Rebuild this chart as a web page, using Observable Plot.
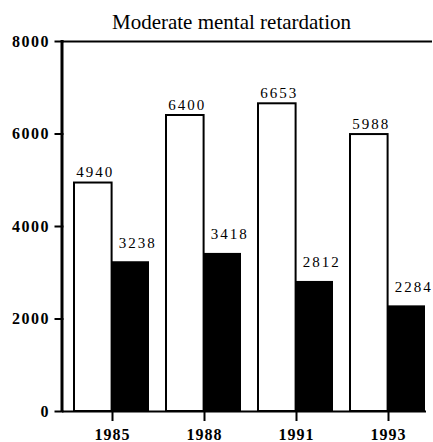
<!DOCTYPE html>
<html><head><meta charset="utf-8">
<script src="https://cdn.jsdelivr.net/npm/d3@7"></script>
<script src="https://cdn.jsdelivr.net/npm/@observablehq/plot@0.6"></script>
<style>
body{margin:0;background:#fff}
svg text{font-family:"Liberation Serif","DejaVu Serif",serif !important}
g[aria-label="y-axis tick label"] text{letter-spacing:1.5px}
g[aria-label="x-axis tick label"] text{letter-spacing:1px}
g.value-label text{letter-spacing:2px}
</style>
</head><body><div id="chart"></div>
<script>
const title = "Moderate mental retardation";
const years = ["1985", "1988", "1991", "1993"];
const whiteValues = [4940, 6400, 6653, 5988];
const blackValues = [3238, 3418, 2812, 2284];
const yTicks = [0, 2000, 4000, 6000, 8000];

const dataW = years.map((y, i) => ({year: y, value: whiteValues[i]}));
const dataB = years.map((y, i) => ({year: y, value: blackValues[i]}));
const font = "Liberation Serif";
const half = 37.4;

const chart = Plot.plot({
  width: 433,
  height: 442,
  marginLeft: 62,
  marginRight: 1,
  marginTop: 41,
  marginBottom: 31,
  style: {fontFamily: font, background: "#fff", color: "#000", overflow: "visible"},
  x: {domain: years, type: "band", range: [62, 436], paddingInner: 0.19, paddingOuter: 0.12, axis: null},
  y: {domain: [0, 8000], axis: null},
  marks: [
    Plot.barY(dataW, {x: "year", y: "value", insetRight: half, fill: "#fff", stroke: "#000", strokeWidth: 2}),
    Plot.barY(dataB, {x: "year", y: "value", insetLeft: half, fill: "#000"}),
    Plot.ruleY([8000], {stroke: "#000", strokeWidth: 2}),
    Plot.ruleY([0], {stroke: "#000", strokeWidth: 2, insetRight: 6}),
    Plot.axisY({ticks: yTicks, label: null, tickSize: 9, tickPadding: 5, tickFormat: d => String(d), fontSize: 16, dx: 1.5, fontWeight: "bold", strokeWidth: 2}),
    Plot.axisX({label: null, tickSize: 10, tickPadding: 7, fontSize: 16, dx: 0.5, fontWeight: "bold", strokeWidth: 2}),
    Plot.text(dataW, {x: "year", y: "value", text: d => String(d.value), dx: -half / 2 + 2, dy: -6, lineAnchor: "bottom", fontSize: 15, fill: "#000", className: "value-label"}),
    Plot.text(dataB, {x: "year", y: "value", text: d => String(d.value), dx: half / 2 + 7, dy: -14, lineAnchor: "bottom", fontSize: 15, fill: "#000", className: "value-label"}),
    Plot.text([title], {frameAnchor: "top", dx: -16, dy: -13, lineAnchor: "bottom", fontSize: 21, fill: "#000"})
  ]
});
document.getElementById("chart").appendChild(chart);

// left axis line drawn along the y scale range
const ys = chart.scale("y");
d3.select(chart).append("line")
  .attr("x1", 62).attr("x2", 62)
  .attr("y1", ys.range[0] + 1).attr("y2", ys.range[1] - 1)
  .attr("stroke", "#000").attr("stroke-width", 3);
</script>
</body></html>
